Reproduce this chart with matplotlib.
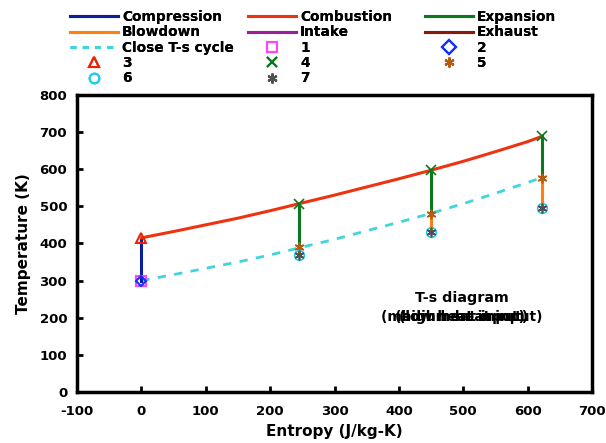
import matplotlib
matplotlib.use("Agg")
import matplotlib.pyplot as plt
from matplotlib.lines import Line2D

# Data
s_comp = [0, 0]
T_comp = [300, 415]

s_comb = [0, 50, 100, 150, 200, 245, 300, 350, 400, 450, 500, 550, 600, 622]
T_comb = [415, 432, 450, 468, 488, 507, 530, 552, 574, 597, 621, 647, 674, 688]

s_cyc = [245, 450, 622]
T4 = [507, 597, 688]
T5 = [390, 480, 577]
T6 = [368, 432, 495]
T7 = [368, 432, 495]

s_close = [0, 50, 100, 150, 200, 245, 300, 350, 400, 450, 500, 550, 600, 622]
T_close = [300, 316, 333, 350, 369, 388, 411, 434, 457, 481, 507, 535, 564, 577]

s1, T1 = [0], [300]
s2, T2 = [0], [300]
s3, T3 = [0], [415]

xticks = [-100, 0, 100, 200, 300, 400, 500, 600, 700]
yticks = [0, 100, 200, 300, 400, 500, 600, 700, 800]

c_comp = "#0a1f9a"
c_comb = "#ee3311"
c_exp = "#0b7a1e"
c_blow = "#ff7f10"
c_int = "#9a1f9a"
c_exh = "#8b1a0a"
c_close = "#40d4dc"

plt.rcParams['font.family'] = ['DejaVu Sans']
plt.rcParams['font.weight'] = 'bold'
plt.rcParams['axes.unicode_minus'] = False

fig = plt.figure(figsize=(6.06, 4.43), dpi=100)
ax = fig.add_axes([0.127, 0.115, 0.85, 0.671])

lw = 2.2
ax.plot(s_close, T_close, color=c_close, lw=2, ls=(0, (3, 3)), zorder=2)
ax.plot(s_comp, T_comp, color=c_comp, lw=lw, zorder=3)
ax.plot(s_comb, T_comb, color=c_comb, lw=lw, zorder=3)
for i in range(len(s_cyc)):
    ax.plot([s_cyc[i], s_cyc[i]], [T4[i], T5[i]], color=c_exp, lw=lw, zorder=3)
    ax.plot([s_cyc[i], s_cyc[i]], [T5[i], T6[i]], color=c_blow, lw=lw, zorder=3)
    ax.plot([s_cyc[i], s_cyc[i]], [T6[i], T7[i]], color=c_int, lw=lw, zorder=3)

ms = 7
ax.plot(s1, T1, ls='none', marker='s', mfc='none', mec='#ff44ff', ms=ms, mew=1.5, zorder=4)
ax.plot(s2, T2, ls='none', marker='D', mfc='none', mec='#1030ff', ms=5.5, mew=1.5, zorder=5)
ax.plot(s3, T3, ls='none', marker='^', mfc='none', mec='#ee2200', ms=ms, mew=1.5, zorder=4)
ax.plot(s_cyc, T4, ls='none', marker='x', color='#0b7a1e', ms=ms, mew=1.2, zorder=4)
ax.plot(s_cyc, T5, ls='none', marker=(6, 2, 0), color='#b85a10', ms=ms, mew=1.2, zorder=4)
ax.plot(s_cyc, T6, ls='none', marker='o', mfc='none', mec='#22ccee', ms=ms, mew=1.2, zorder=4)
ax.plot(s_cyc, T7, ls='none', marker=(6, 2, 0), color='#505050', ms=ms, mew=1.2, zorder=5)

ax.set_xlim(-100, 700)
ax.set_ylim(0, 800)
ax.set_xticks(xticks)
ax.set_yticks(yticks)
ax.tick_params(direction='in', width=2, length=4, labelsize=9.5)
ax.tick_params(axis='x', pad=9)
ax.tick_params(axis='y', pad=7)
for lab in ax.get_xticklabels() + ax.get_yticklabels():
    lab.set_fontweight('bold')
for sp in ax.spines.values():
    sp.set_linewidth(2.5)
ax.set_xlabel("Entropy (J/kg-K)", fontsize=11, fontweight='bold', labelpad=5)
ax.set_ylabel("Temperature (K)", fontsize=11, fontweight='bold', labelpad=6)

ax.text(498, 253, "T-s diagram", fontsize=10.3, fontweight='bold', ha='center', va='center')
for t in ["(low heat input)", "(medium heat input)", "(high heat input)"]:
    ax.text(498, 202, t, fontsize=10, fontweight='bold', ha='center', va='center')

# Legend: three columns, each its own legend, placed like the reference
def ln(c, ls='-'):
    return Line2D([], [], color=c, lw=2.2, ls=ls)
def mk(m, **kw):
    return Line2D([], [], ls='none', marker=m, ms=7, mew=1.5, **kw)

cols = [
    [(ln(c_comp), "Compression"), (ln(c_blow), "Blowdown"), (ln(c_close, (0, (2, 2))), "Close T-s cycle"),
     (mk('^', mfc='none', mec='#ee2200'), "3"), (mk('o', mfc='none', mec='#22ccee'), "6")],
    [(ln(c_comb), "Combustion"), (ln(c_int), "Intake"), (mk('s', mfc='none', mec='#ff44ff'), "1"),
     (mk('x', color='#0b7a1e'), "4"), (mk((6, 2, 0), color='#505050'), "7")],
    [(ln(c_exp), "Expansion"), (ln(c_exh), "Exhaust"), (mk('D', mfc='none', mec='#1030ff'), "2"),
     (mk((6, 2, 0), color='#b85a10'), "5")],
]
col_x = [70, 248, 425]
fs = 9.9
for cx, entries in zip(col_x, cols):
    leg = fig.legend([a for a, b in entries], [b for a, b in entries], ncol=1, loc='upper left',
                     bbox_to_anchor=(cx / 606, 1 - 10 / 443), frameon=False,
                     prop={'weight': 'bold', 'size': fs},
                     handlelength=48 / (fs * 100 / 72), handletextpad=4 / (fs * 100 / 72),
                     labelspacing=0.1, borderaxespad=0, borderpad=0)
    fig.add_artist(leg)

fig.savefig("out.png", dpi=100)
